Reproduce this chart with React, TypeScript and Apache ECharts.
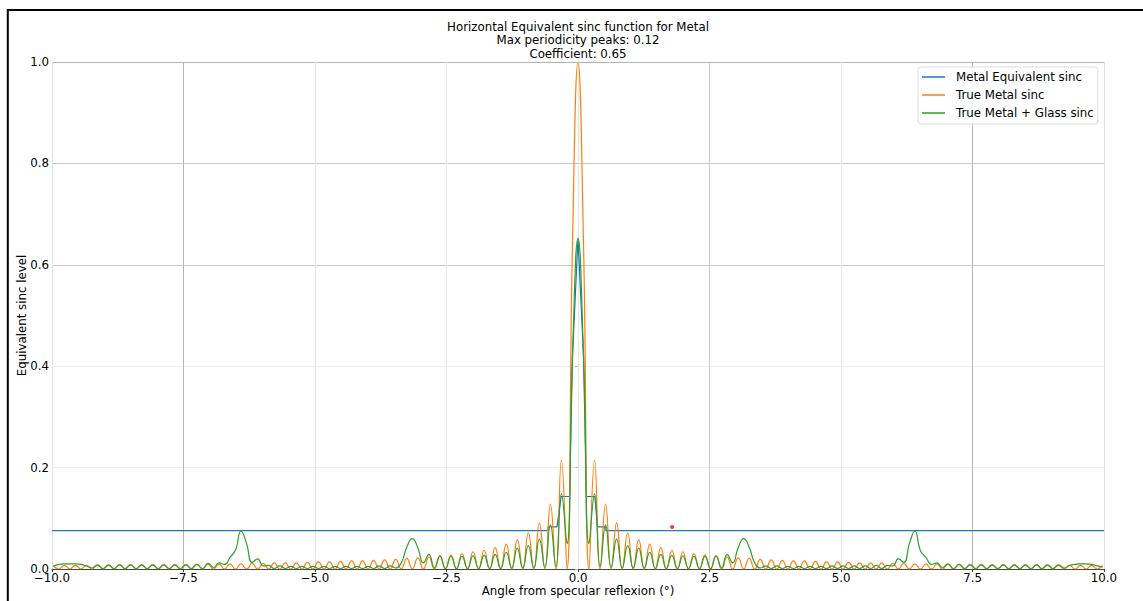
import { useEffect, useRef } from "react";
import * as echarts from "echarts";

// Sampling grid of the two sinc curves (degrees)
const ANGLE_START = -9.975;
const ANGLE_STEP = 0.105;

// True Metal sinc, values read at each grid angle
const orangeValues = [
  0.007, 0, 0.007, 0, 0.007, 0, 0.007, 0, 0.007, 0, 0.007, 0, 0.008, 0, 0.008, 0, 0.008, 0, 0.008, 0,
  0.008, 0, 0.009, 0, 0.009, 0, 0.009, 0, 0.009, 0, 0.010, 0, 0.010, 0, 0.010, 0, 0.011, 0, 0.011, 0,
  0.012, 0, 0.012, 0, 0.012, 0, 0.013, 0, 0.014, 0, 0.014, 0, 0.015, 0, 0.016, 0, 0.016, 0, 0.017, 0,
  0.018, 0, 0.019, 0, 0.021, 0, 0.022, 0, 0.024, 0, 0.026, 0, 0.028, 0, 0.030, 0, 0.034, 0, 0.037, 0,
  0.042, 0, 0.049, 0, 0.058, 0, 0.071, 0, 0.091, 0, 0.128, 0, 0.215, 0, 0.64,
  1.0,
  0.64, 0, 0.215, 0, 0.128, 0, 0.091, 0, 0.071, 0, 0.058, 0, 0.049, 0, 0.042, 0, 0.037, 0, 0.034, 0,
  0.030, 0, 0.028, 0, 0.026, 0, 0.024, 0, 0.022, 0, 0.021, 0, 0.019, 0, 0.018, 0, 0.017, 0, 0.016, 0,
  0.016, 0, 0.015, 0, 0.014, 0, 0.014, 0, 0.013, 0, 0.012, 0, 0.012, 0, 0.012, 0, 0.011, 0, 0.011, 0,
  0.010, 0, 0.010, 0, 0.010, 0, 0.009, 0, 0.009, 0, 0.009, 0, 0.009, 0, 0.008, 0, 0.008, 0, 0.008, 0,
  0.008, 0, 0.008, 0, 0.007, 0, 0.007, 0, 0.007, 0, 0.007, 0, 0.007, 0, 0.007,
];

// True Metal + Glass sinc, values read at each grid angle
const greenValues = [
  0.005, 0.009, 0.010, 0.010, 0.010, 0.009, 0.006, 0.002, 0.008, 0.001,
  0.008, 0.001, 0.008, 0.001, 0.008, 0.001, 0.008, 0.001, 0.008, 0.001,
  0.008, 0.001, 0.008, 0.001, 0.008, 0.001, 0.009, 0.001, 0.011, 0.003,
  0.012, 0.009, 0.023, 0.038, 0.075, 0.050, 0.013, 0.020, 0.006, 0.007,
  0.001, 0.006, 0.001, 0.005, 0.001, 0.005, 0.001, 0.005, 0.001, 0.005,
  0.001, 0.005, 0.001, 0.005, 0.001, 0.005, 0.001, 0.005, 0.001, 0.006,
  0.001, 0.006, 0.002, 0.012, 0.043, 0.060, 0.042, 0.012, 0.029, 0.002,
  0.026, 0.001, 0.025, 0.001, 0.025, 0.001, 0.026, 0.001, 0.027, 0.001,
  0.029, 0.001, 0.033, 0.002, 0.041, 0.002, 0.046, 0.002, 0.059, 0.003,
  0.087, 0.004, 0.148, 0.05, 0.42,
  0.652,
  0.42, 0.05, 0.148, 0.004, 0.087,
  0.003, 0.059, 0.002, 0.046, 0.002, 0.041, 0.002, 0.033, 0.001, 0.029,
  0.001, 0.027, 0.001, 0.026, 0.001, 0.025, 0.001, 0.025, 0.001, 0.026,
  0.002, 0.029, 0.012, 0.042, 0.060, 0.043, 0.012, 0.002, 0.006, 0.001,
  0.006, 0.001, 0.005, 0.001, 0.005, 0.001, 0.005, 0.001, 0.005, 0.001,
  0.006, 0.001, 0.006, 0.001, 0.006, 0.001, 0.006, 0.001, 0.007, 0.001,
  0.007, 0.006, 0.020, 0.013, 0.050, 0.075, 0.036, 0.023, 0.009, 0.012,
  0.003, 0.010, 0.001, 0.009, 0.001, 0.008, 0.001, 0.008, 0.001, 0.008,
  0.001, 0.008, 0.001, 0.008, 0.001, 0.008, 0.001, 0.008, 0.001, 0.008,
  0.001, 0.008, 0.002, 0.007, 0.009, 0.010, 0.010, 0.009, 0.006, 0.004,
];

// Metal Equivalent sinc (step envelope)
const blueAngles = [-10, -0.57, -0.57, -0.4, -0.32, -0.16, -0.105, 0, 0.105, 0.16, 0.32, 0.37, 0.53, 0.53, 10];
const blueValues = [0.0755, 0.0755, 0.083, 0.083, 0.143, 0.143, 0.42, 0.652, 0.42, 0.143, 0.143, 0.083, 0.083, 0.0755, 0.0755];

// Red marker
const redPoint = [1.79, 0.083];

const seriesNames = ["Metal Equivalent sinc", "True Metal sinc", "True Metal + Glass sinc"];
const titleLines = [
  "Horizontal Equivalent sinc function for Metal",
  "Max periodicity peaks: 0.12",
  "Coefficient: 0.65",
];

const FONT = "DejaVu Sans";
const FS = 11.8;

export default function App() {
  const ref = useRef<HTMLDivElement>(null);

  useEffect(() => {
    if (!ref.current) return;
    const chart = echarts.init(ref.current, null, { renderer: "svg" });
    const gridData = (vals: number[]) => vals.map((v, i) => [ANGLE_START + i * ANGLE_STEP, v]);

    chart.setOption({
      animation: false,
      backgroundColor: "#ffffff",
      textStyle: { fontFamily: FONT },
      grid: { left: 52, right: 39, top: 62, bottom: 32, containLabel: false, outerBoundsMode: "none" },
      graphic: [
        {
          type: "text",
          x: 578,
          y: 20,
          z: 100,
          style: {
            text: titleLines.join("\n"),
            textAlign: "center",
            fontFamily: FONT,
            fontSize: FS,
            lineHeight: 13.5,
            fill: "#000",
          },
        },
        {
          type: "line",
          z: 100,
          shape: { x1: 7.8, y1: 9, x2: 7.8, y2: 601 },
          style: { stroke: "#000", lineWidth: 2 },
        },
        {
          type: "line",
          z: 100,
          shape: { x1: 7, y1: 10, x2: 1143, y2: 10 },
          style: { stroke: "#000", lineWidth: 2 },
        },
      ],
      legend: {
        data: seriesNames,
        orient: "vertical",
        left: 918,
        top: 67,
        icon: "rect",
        itemWidth: 23,
        itemHeight: 1.5,
        itemGap: 4,
        padding: [3, 4, 4, 4],
        backgroundColor: "rgba(255,255,255,0.85)",
        borderColor: "#dcdcdc",
        borderWidth: 1,
        borderRadius: 3,
        textStyle: {
          fontFamily: FONT,
          fontSize: FS,
          lineHeight: 14,
          color: "#000",
          padding: [0, 0, 0, 6],
        },
      },
      xAxis: {
        type: "value",
        min: -10,
        max: 10,
        interval: 2.5,
        name: "Angle from specular reflexion (°)",
        nameLocation: "middle",
        nameGap: 16,
        nameMoveOverlap: false,
        nameTextStyle: { fontFamily: FONT, fontSize: FS, color: "#000" },
        axisLine: { show: true, onZero: false, lineStyle: { color: "#444", width: 1 } },
        axisTick: { show: true, length: 3, lineStyle: { color: "#444" } },
        axisLabel: {
          margin: 3,
          fontFamily: FONT,
          fontSize: FS,
          color: "#000",
          formatter: (v: number) => (v < 0 ? "\u2212" : "") + Math.abs(v).toFixed(1),
        },
        splitLine: {
          show: true,
          lineStyle: {
            width: 1,
            color: ["#e2e2e2", "#b8b8b8", "#e4e4e4", "#e8e8e8", "#e4e4e4", "#cdcdcd", "#e8e8e8", "#b8b8b8", "#e2e2e2"],
          },
        },
      },
      yAxis: {
        type: "value",
        min: 0,
        max: 1,
        interval: 0.2,
        name: "Equivalent sinc level",
        nameLocation: "middle",
        nameGap: 24,
        nameMoveOverlap: false,
        nameTextStyle: { fontFamily: FONT, fontSize: FS, color: "#000" },
        axisLine: { show: false },
        axisTick: { show: true, length: 3, lineStyle: { color: "#bbb" } },
        axisLabel: {
          margin: 3,
          fontFamily: FONT,
          fontSize: FS,
          color: "#000",
          formatter: (v: number) => v.toFixed(1),
        },
        splitLine: {
          show: true,
          lineStyle: {
            width: 1,
            color: ["#444", "#ebebeb", "#ededed", "#c8c8c8", "#c8c8c8", "#b4b4b4"],
          },
        },
      },
      series: [
        {
          name: seriesNames[0],
          type: "line",
          data: blueAngles.map((x, i) => [x, blueValues[i]]),
          symbol: "none",
          lineStyle: { color: "#1f77b4", width: 1.2 },
          itemStyle: { color: "#1f77b4" },
        },
        {
          name: seriesNames[1],
          type: "line",
          data: gridData(orangeValues),
          symbol: "none",
          smooth: 0.5,
          lineStyle: { color: "#ff7f0e", width: 1.2 },
          itemStyle: { color: "#ff7f0e" },
        },
        {
          name: seriesNames[2],
          type: "line",
          data: gridData(greenValues),
          symbol: "none",
          smooth: 0.5,
          lineStyle: { color: "#2ca02c", width: 1.2 },
          itemStyle: { color: "#2ca02c" },
        },
        {
          name: "marker",
          type: "scatter",
          data: [redPoint],
          symbolSize: 4,
          itemStyle: { color: "#ff0000" },
          z: 5,
        },
      ],
    });

    return () => chart.dispose();
  }, []);

  return (
    <div
      ref={ref}
      style={{ position: "fixed", left: 0, top: 0, width: 1143, height: 601, background: "#fff" }}
    />
  );
}
